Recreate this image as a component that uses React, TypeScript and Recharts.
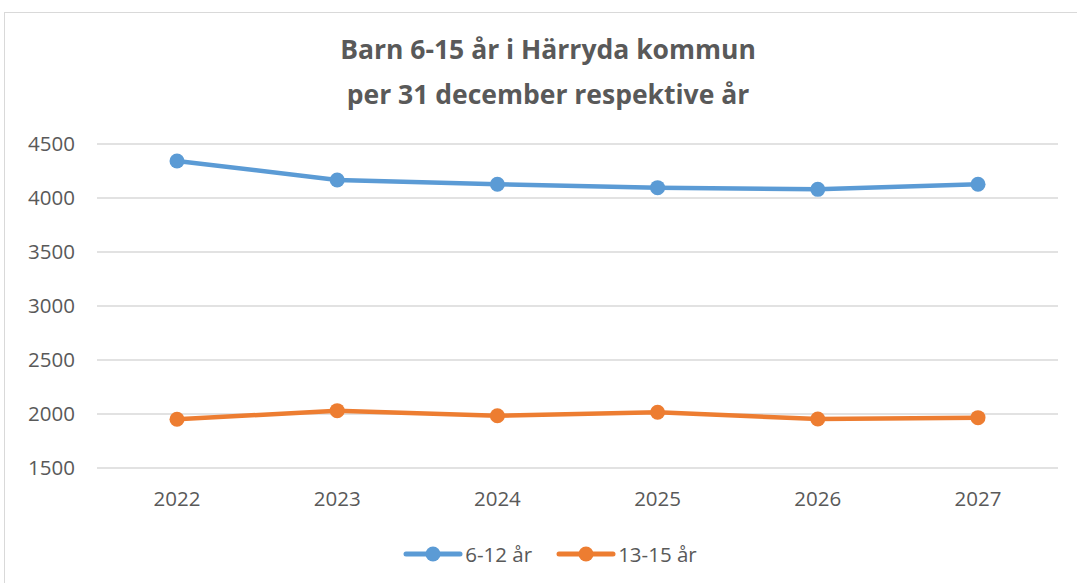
import { LineChart, Line, XAxis, YAxis, CartesianGrid } from "recharts";

const years = ["2022", "2023", "2024", "2025", "2026", "2027"];
const age6to12 = [4343, 4167, 4127, 4096, 4080, 4127];
const age13to15 = [1951, 2031, 1984, 2016, 1954, 1966];
const yTicks = [1500, 2000, 2500, 3000, 3500, 4000, 4500];

const seriesNames = ["6-12 år", "13-15 år"];
const colors = ["#5B9BD5", "#ED7D31"];

const chartData = years.map((year, i) => ({
  year,
  a: age6to12[i],
  b: age13to15[i],
}));

const font = "'Open Sans', sans-serif";
const textColor = "#595959";

function LegendItem({ name, color }: { name: string; color: string }) {
  return (
    <div style={{ display: "flex", alignItems: "center", marginRight: 24 }}>
      <svg width={60} height={16}>
        <line x1={3} y1={8} x2={57} y2={8} stroke={color} strokeWidth={5} strokeLinecap="round" />
        <circle cx={30} cy={8} r={7.5} fill={color} />
      </svg>
      <span style={{ fontSize: 20.5, color: textColor, marginLeft: 2 }}>{name}</span>
    </div>
  );
}

export default function App() {
  return (
    <div style={{ position: "absolute", left: 0, top: 0, width: 1077, height: 583, background: "#fff", fontFamily: font }}>
      <div
        style={{
          position: "absolute",
          left: 4,
          top: 12,
          width: 1090,
          height: 600,
          border: "1px solid #d9d9d9",
        }}
      />
      <div
        style={{
          position: "absolute",
          left: 0,
          width: 1096,
          top: 27,
          textAlign: "center",
          fontWeight: "bold",
          fontSize: 26.5,
          lineHeight: "45px",
          color: textColor,
        }}
      >
        <div>Barn 6-15 år i Härryda kommun</div>
        <div>per 31 december respektive år</div>
      </div>
      <div style={{ position: "absolute", left: 0, top: 0 }}>
        <LineChart width={1077} height={583} data={chartData} margin={{ top: 144, right: 19, left: 0, bottom: 85 }}>
          <CartesianGrid vertical={false} stroke="#d9d9d9" strokeWidth={1.5} />
          <XAxis
            dataKey="year"
            axisLine={false}
            tickLine={false}
            tickSize={0}
            tickMargin={23}
            height={30}
            padding={{ left: 80, right: 80 }}
            tick={{ fill: textColor, fontSize: 20.5, fontFamily: font }}
          />
          <YAxis
            domain={[1500, 4500]}
            ticks={yTicks}
            axisLine={false}
            tickLine={false}
            tickSize={0}
            tickMargin={22}
            width={97}
            tick={{ fill: textColor, fontSize: 20.5, fontFamily: font }}
          />
          <Line
            dataKey="a"
            name={seriesNames[0]}
            stroke={colors[0]}
            strokeWidth={4.5}
            dot={{ r: 7.5, fill: colors[0], stroke: colors[0], strokeWidth: 0 }}
            isAnimationActive={false}
          />
          <Line
            dataKey="b"
            name={seriesNames[1]}
            stroke={colors[1]}
            strokeWidth={4.5}
            dot={{ r: 7.5, fill: colors[1], stroke: colors[1], strokeWidth: 0 }}
            isAnimationActive={false}
          />
        </LineChart>
      </div>
      <div style={{ position: "absolute", left: 0, width: 1124, top: 540, display: "flex", justifyContent: "center" }}>
        {seriesNames.map((n, i) => (
          <LegendItem key={n} name={n} color={colors[i]} />
        ))}
      </div>
    </div>
  );
}
